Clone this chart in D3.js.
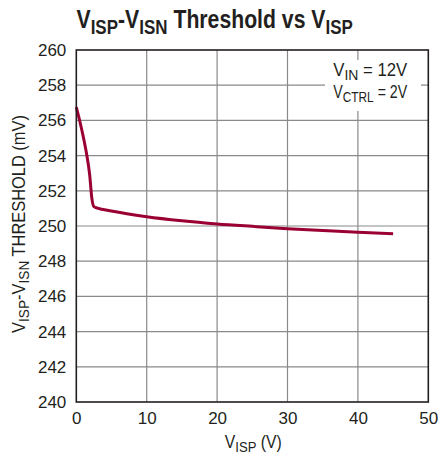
<!DOCTYPE html>
<html>
<head>
<meta charset="utf-8">
<script src="https://cdn.jsdelivr.net/npm/d3@7"></script>
<style>
  body { margin: 0; background: #fff; }
  svg { display: block; }
  text { font-family: "Liberation Sans", Arial, sans-serif; fill: #231f20; }
</style>
</head>
<body>
<svg id="chart" width="443" height="460"></svg>
<script>
// Threshold curve.
const vispValues = [0, 0.5, 1.0, 1.5, 1.9, 2.2, 2.5, 3, 5, 10, 15, 20, 25, 30, 35, 40, 45];
const thresholdValues = [256.75, 255.95, 255.05, 254.0, 252.9, 251.6, 251.1, 251.02, 250.85, 250.53, 250.3, 250.12, 249.98, 249.85, 249.74, 249.64, 249.56];
const xTicks = [0, 10, 20, 30, 40, 50];
const yTicks = [240, 242, 244, 246, 248, 250, 252, 254, 256, 258, 260];

const W = 443, H = 460;
const svg = d3.select("#chart");
const margin = { left: 76.3, right: W - 428.3, top: 50, bottom: H - 402 };

const x = d3.scaleLinear().domain([0, 50]).range([margin.left, W - margin.right]);
const y = d3.scaleLinear().domain([240, 260]).range([H - margin.bottom, margin.top]);

// Grid.
const grid = svg.append("g").attr("stroke", "#8a8a8a").attr("stroke-width", 1.2);
grid.selectAll("line.v").data(xTicks.slice(1, -1)).join("line")
  .attr("x1", (d) => x(d)).attr("x2", (d) => x(d))
  .attr("y1", y(260)).attr("y2", y(240));
grid.selectAll("line.h").data(yTicks.slice(1, -1)).join("line")
  .attr("x1", x(0)).attr("x2", x(50))
  .attr("y1", (d) => y(d)).attr("y2", (d) => y(d));

// Legend background blanks the grid behind it.
svg.append("rect").attr("x", 325).attr("y", 60).attr("width", 96).attr("height", 51).attr("fill", "#fff");

// Curve.
const line = d3.line().x((d, i) => x(vispValues[i])).y((d) => y(d)).curve(d3.curveMonotoneX);
svg.append("path").datum(thresholdValues)
  .attr("fill", "none").attr("stroke", "#9a0032").attr("stroke-width", 3)
  .attr("stroke-linejoin", "round").attr("stroke-linecap", "butt")
  .attr("d", line);

// Frame.
svg.append("rect").attr("x", x(0)).attr("y", y(260))
  .attr("width", x(50) - x(0)).attr("height", y(240) - y(260))
  .attr("fill", "none").attr("stroke", "#231f20").attr("stroke-width", 1.6);

// Tick labels via axes (domain/ticks hidden).
const xAxis = svg.append("g").attr("transform", `translate(0,${y(240)})`)
  .call(d3.axisBottom(x).tickValues(xTicks).tickSize(0).tickPadding(10));
const yAxis = svg.append("g").attr("transform", `translate(${x(0)},0)`)
  .call(d3.axisLeft(y).tickValues(yTicks).tickSize(0).tickPadding(10));
[xAxis, yAxis].forEach((g) => {
  g.select(".domain").remove();
  g.selectAll("text").attr("font-size", 17).attr("fill", "#231f20")
    .style("font-family", '"Liberation Sans", Arial, sans-serif');
});

// Text with subscripts, squeezed horizontally to the reference's condensed width.
function subText(parts, size, subSize, opts) {
  const g = svg.append("g");
  const t = g.append("text").attr("font-size", size)
    .attr("text-anchor", opts.anchor || "start")
    .attr("font-weight", opts.bold ? "bold" : null);
  const shift = size * 0.24;
  parts.forEach(([s, sub], i) => {
    const prevSub = i > 0 && parts[i - 1][1];
    const dy = (sub ? shift : 0) - (prevSub ? shift : 0);
    const sp = t.append("tspan").text(s).attr("dy", dy);
    if (sub) sp.attr("font-size", subSize);
  });
  const w = t.node().getBBox().width;
  const s = opts.width / w;
  g.attr("transform", `translate(${opts.x},${opts.y})${opts.rotate ? ` rotate(${opts.rotate})` : ""} scale(${s},1)`);
  return g;
}

// Title.
subText([["V", false], ["ISP", true], ["-V", false], ["ISN", true], [" Threshold vs V", false], ["ISP", true]],
  25, 20, { x: 76.5, y: 28, bold: true, width: 276.5 });

// Legend.
subText([["V", false], ["IN", true], [" = 12V", false]], 18, 15, { x: 333.3, y: 75.5, width: 74 });
subText([["V", false], ["CTRL", true], [" = 2V", false]], 18, 15, { x: 333.3, y: 98, width: 74 });

// Axis titles.
subText([["V", false], ["ISP", true], [" (V)", false]], 18, 15, { x: 253.3, y: 447.5, anchor: "middle", width: 57 });
subText([["V", false], ["ISP", true], ["-V", false], ["ISN", true], [" THRESHOLD (mV)", false]], 18, 15,
  { x: 25, y: 224, anchor: "middle", rotate: -90, width: 218 });
</script>
</body>
</html>
